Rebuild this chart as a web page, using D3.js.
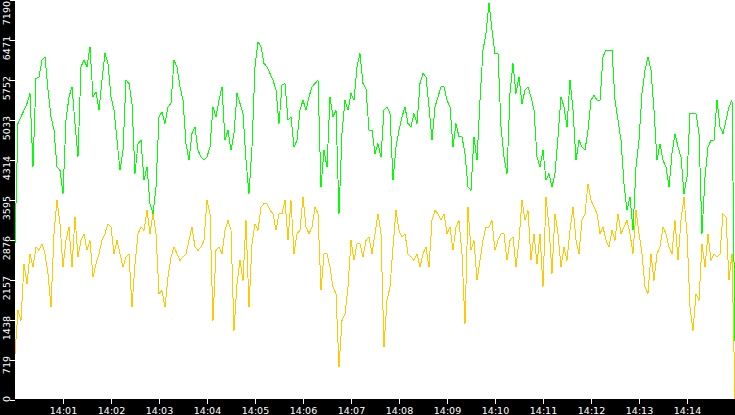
<!DOCTYPE html>
<html>
<head>
<meta charset="utf-8">
<script src="https://cdn.jsdelivr.net/npm/d3@7/dist/d3.min.js"></script>
<style>
  html, body { margin: 0; padding: 0; background: #fff; }
  svg { display: block; }
  text { font-family: "DejaVu Sans", sans-serif; }
</style>
</head>
<body>
<svg id="chart" width="735" height="415"></svg>
<script>
// ---- data (sample every 3.75 s from 14:00:00 to 14:15:00) ----
const startTime = "14:00:00";
const endTime = "14:15:00";
const stepSeconds = 3.75;

const greenSeries = [
  2800,4960,5080,5200,5320,5500,4180,5770,5800,6100,6160,5560,5080,4840,4180,4120,3700,5020,5440,5620,
  4960,4360,5980,6100,5980,6340,5440,5530,5200,5740,6220,6040,5440,5200,4660,4120,4480,5740,5680,5320,
  4060,4600,4660,3940,4180,3520,3340,3820,5080,5170,4960,5260,5320,6100,5980,5620,5380,4600,4300,4780,
  4900,4480,4360,4300,4360,4540,5260,5080,5380,5620,4660,4840,4480,4780,5500,5320,5140,4300,3700,4540,
  5980,6430,6340,6040,5980,5860,5740,5560,4960,5650,5680,5020,5080,4540,4660,5200,5380,5200,5440,5620,
  5680,5740,3820,4480,4180,5440,5080,5200,3340,4780,5380,5200,5500,5380,5980,6220,5680,5590,4840,4840,
  4420,4600,4360,5200,5260,5140,3940,4540,4840,5080,5260,4960,4900,5140,4960,5680,5860,5800,5260,4660,
  5260,5440,5620,5620,5380,5260,4540,4960,4720,4720,4420,3820,3760,4720,4300,5380,6280,6580,7120,6640,
  6220,6220,4900,4360,4060,5500,6040,5500,5800,5320,5560,5620,5440,5200,4360,4180,4480,3940,4060,3820,
  4060,4720,5440,5260,4900,5740,5200,4300,4660,4540,4480,4840,5380,5470,5380,5380,6160,6280,6280,6280,
  5380,5020,4660,3880,3400,3640,3040,4180,4660,5500,5920,6160,5920,5200,4300,4600,4300,4180,3820,4420,
  4780,4540,4360,3700,4000,5140,5140,5140,4780,2980,4000,4540,4660,4660,5380,4900,4780,5020,5260,5380,
  1060
];

const orangeSeries = [
  820,1600,1420,2440,2080,2620,2380,2740,2680,2800,2620,2260,1660,2980,3580,3160,2380,2860,3100,2380,
  3280,2560,2860,2980,2680,2860,2200,2440,2620,2860,2980,3160,3100,2620,2860,2620,2380,2560,2620,1660,
  2440,2980,3100,3040,3400,2980,3340,2980,1900,1960,1660,2200,2560,2740,2620,2500,2560,2620,2860,3100,
  2740,2680,2740,2860,3580,3340,1420,2680,2740,2620,3040,3220,3040,1240,2080,2500,2140,3220,1660,2800,
  3160,3040,3460,3520,3520,3400,3340,3040,3340,3340,3580,2860,3580,2620,2980,3040,3640,3100,2980,3100,
  3460,3340,1960,2620,2620,2380,2020,1900,580,1420,1540,2020,2860,2500,2800,2800,2560,2860,2920,2620,
  2980,3340,2980,940,1780,2020,2740,3400,3040,2920,2980,2620,2560,2500,2620,2380,2620,2740,2380,3220,
  3400,3340,3220,3340,2980,3100,2680,3100,3220,2620,1360,3460,2680,2860,2140,2500,2860,3100,3100,3220,
  2680,2860,2980,2980,2500,2860,2920,2380,2860,3580,3220,3400,2500,2980,2440,2980,2020,3640,3100,2260,
  3340,2980,2380,2740,2500,3040,3460,2860,2620,3220,3340,3880,3580,3460,3340,2980,3100,2860,2740,3040,
  2860,3340,2980,3100,3220,2980,2620,3400,2980,2620,2020,1900,2620,2140,2620,2740,3100,2980,2740,2620,
  3220,2500,3220,3640,2980,1660,1240,1900,1780,2800,2380,2980,2500,2620,2560,2620,3340,3280,2140,2620,
  0
];

const yTickValues = [0, 719, 1438, 2157, 2876, 3595, 4314, 5033, 5752, 6471, 7190];
const xTickLabels = ["14:01","14:02","14:03","14:04","14:05","14:06","14:07","14:08","14:09","14:10","14:11","14:12","14:13","14:14"];

const seriesList = [
  { name: "orange", values: orangeSeries, color: "#ffc800" },
  { name: "green", values: greenSeries, color: "#00ff00" }
];

// ---- drawing ----
const W = 735, H = 415;
const plotLeft = 15, plotBottom = 399.5;
const svg = d3.select("#chart");

const parseT = d3.timeParse("%H:%M:%S");
const t0 = parseT(startTime), t1 = parseT(endTime);

const x = d3.scaleTime().domain([t0, t1]).range([plotLeft, W]);
const y = d3.scaleLinear().domain([0, 7190]).range([plotBottom, -0.5]);

svg.append("rect").attr("x", 0).attr("y", 0).attr("width", W).attr("height", H).attr("fill", "#fff");

const timeOf = i => new Date(t0.getTime() + i * stepSeconds * 1000);

const line = d3.line()
  .x((d, i) => x(timeOf(i)))
  .y(d => y(d));

const plot = svg.append("g");
seriesList.forEach(s => {
  plot.append("path")
    .datum(s.values)
    .attr("fill", "none")
    .attr("stroke", s.color)
    .attr("stroke-width", 1)
    .attr("shape-rendering", "crispEdges")
    .attr("d", line);
});

// left axis band
svg.append("rect").attr("x", 0).attr("y", 0).attr("width", plotLeft).attr("height", H).attr("fill", "#000");
// bottom axis band
svg.append("rect").attr("x", 0).attr("y", 399).attr("width", W).attr("height", H - 399).attr("fill", "#000");

// y axis
const yAxis = d3.axisLeft(y).tickValues(yTickValues).tickSize(5).tickPadding(4).tickFormat(d3.format("d"));
const yg = svg.append("g").attr("transform", `translate(${plotLeft},0)`).call(yAxis);
yg.select(".domain").remove();
yg.selectAll(".tick line").attr("stroke", "#fff").attr("shape-rendering", "crispEdges");
yg.selectAll(".tick text")
  .attr("fill", "#fff")
  .attr("font-size", "9.5px")
  .attr("font-family", "DejaVu Sans, sans-serif")
  .attr("text-anchor", "end")
  .attr("x", null).attr("dy", null)
  .attr("transform", d => {
    const py = Math.max(y(d) - 4, 0.5);
    return `translate(-5,${py - y(d)}) rotate(-90)`;
  })
  .attr("dy", "0");

// x axis
const xTickDates = xTickLabels.map(s => parseT(s + ":00"));
const xAxis = d3.axisBottom(x).tickValues(xTickDates).tickSize(5).tickPadding(2).tickFormat(d3.timeFormat("%H:%M"));
const xg = svg.append("g").attr("transform", `translate(0,399)`).call(xAxis);
xg.select(".domain").remove();
xg.selectAll(".tick line").attr("stroke", "#fff").attr("shape-rendering", "crispEdges");
xg.selectAll(".tick text")
  .attr("fill", "#fff")
  .attr("font-size", "9.5px")
  .attr("font-family", "DejaVu Sans, sans-serif")
  .attr("dy", "0").attr("y", 15);
</script>
</body>
</html>
